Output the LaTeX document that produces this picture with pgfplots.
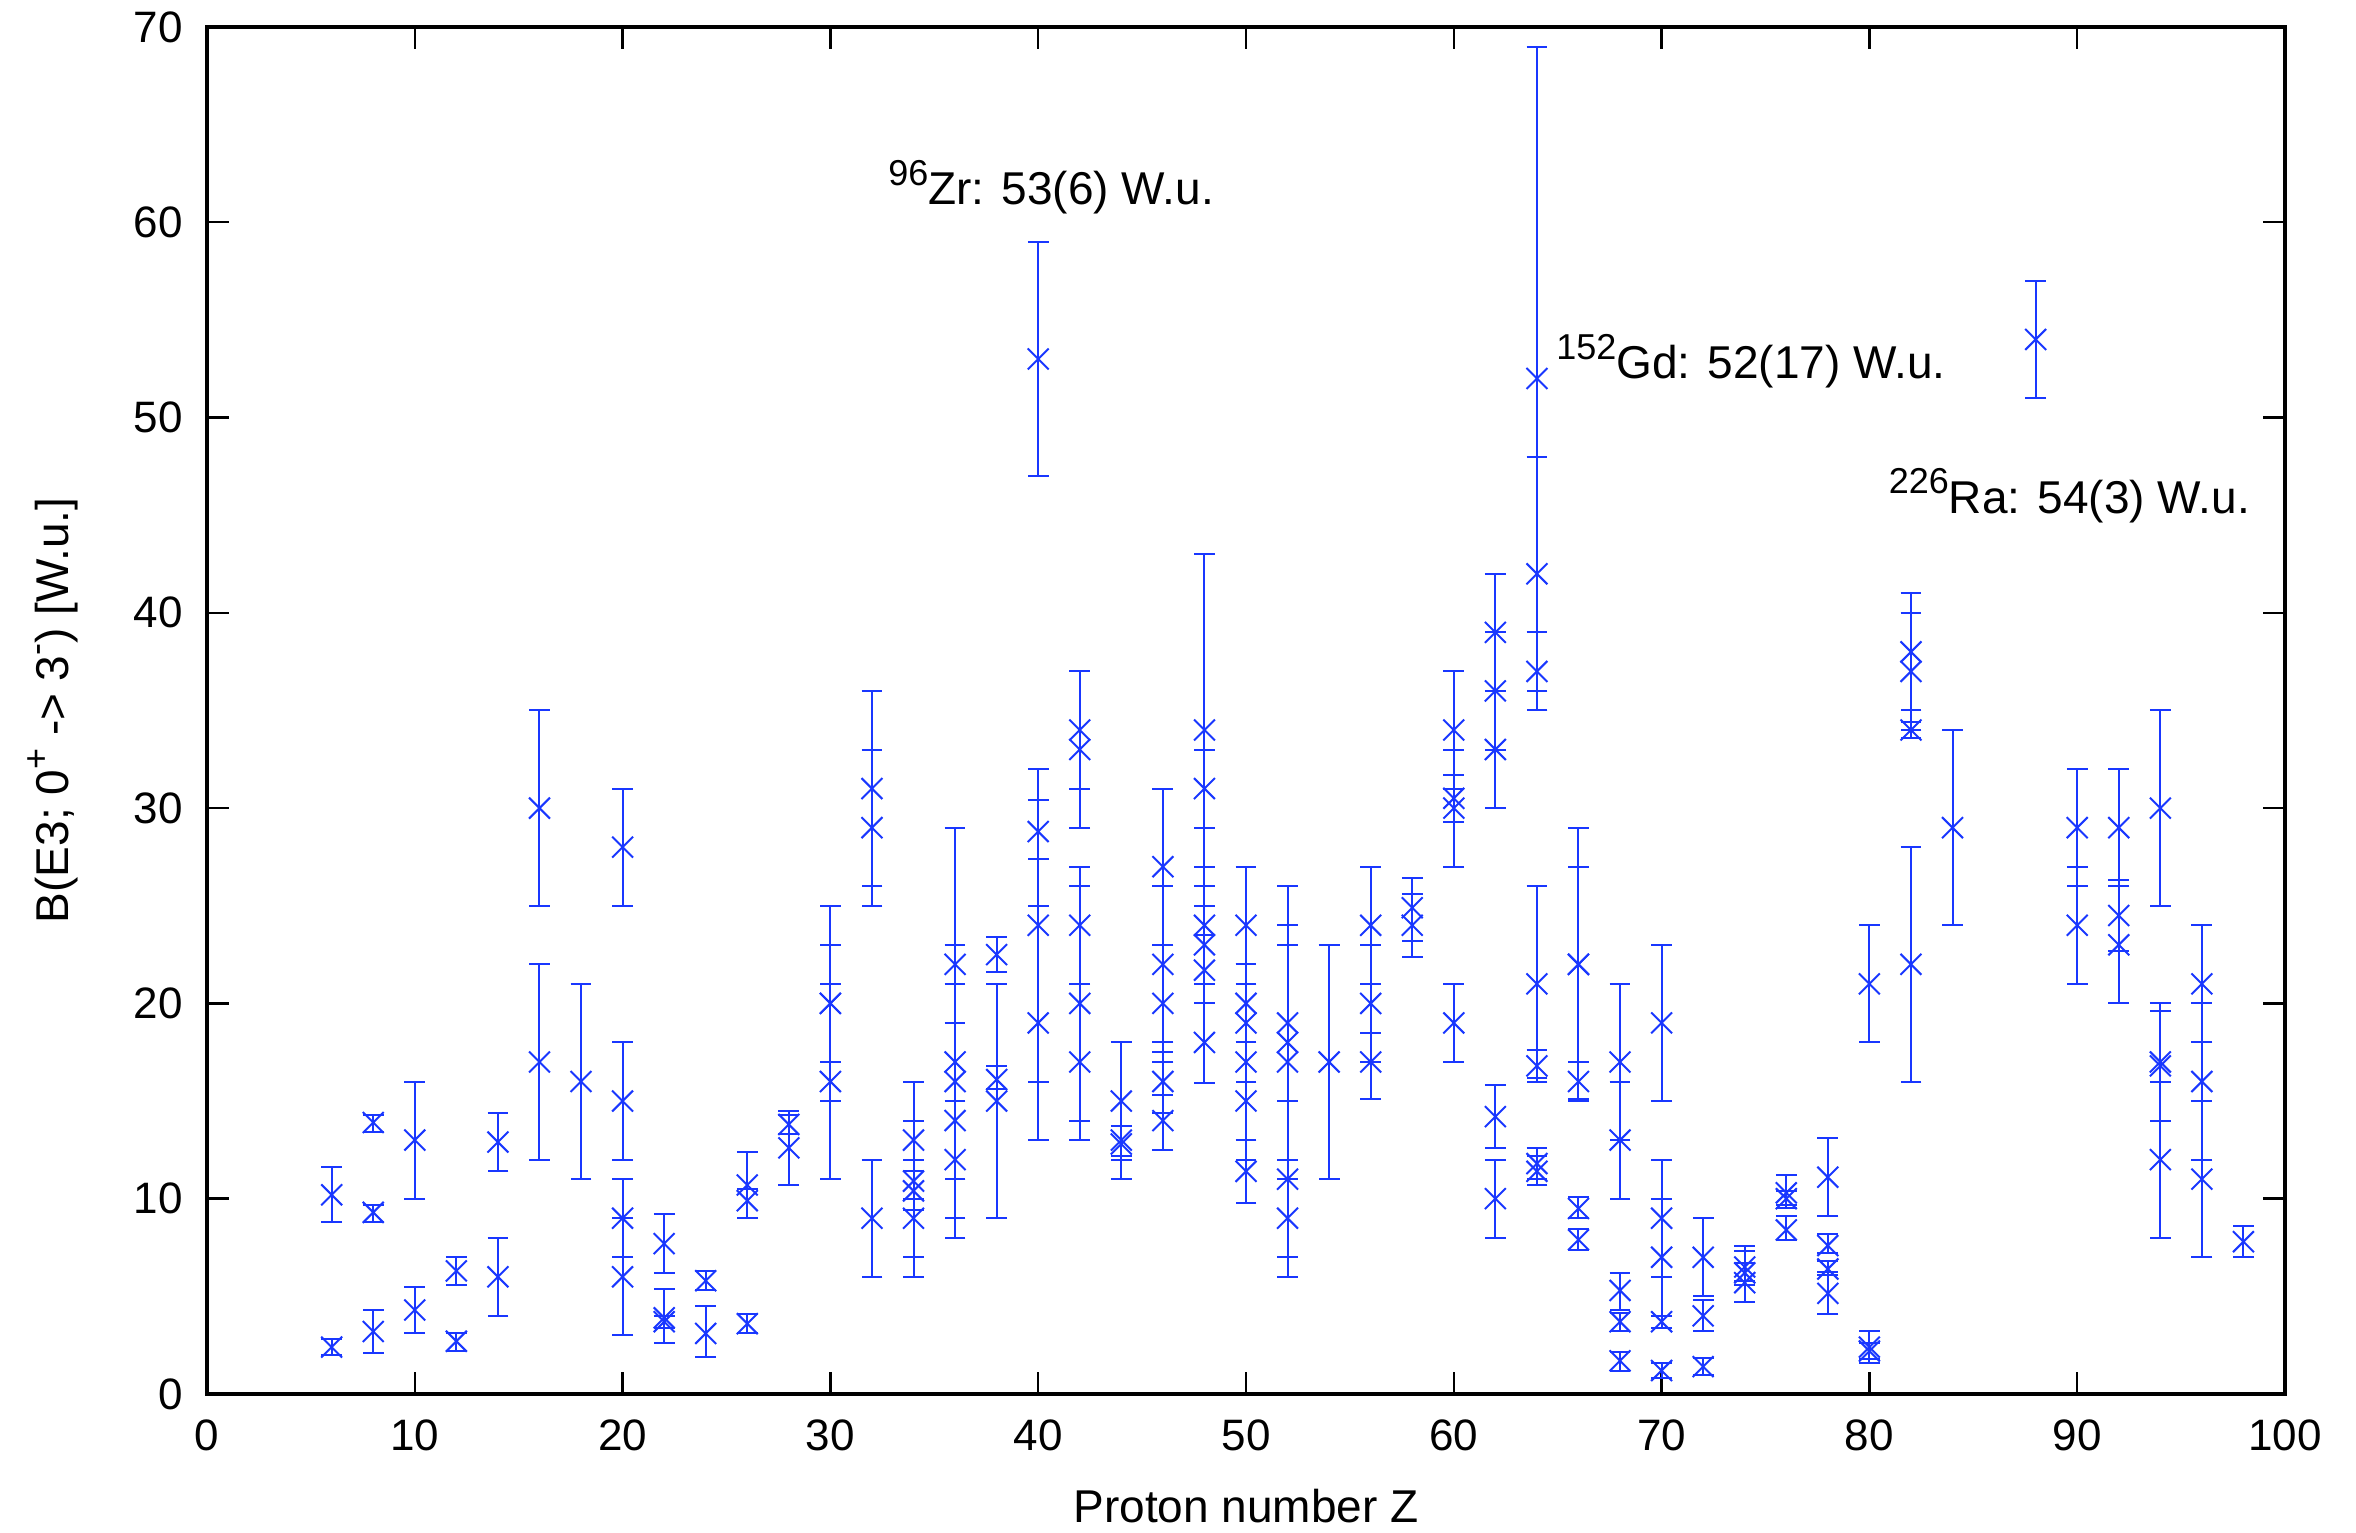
\documentclass[border=0pt]{standalone}
\usepackage{fontspec}
\setmainfont{Liberation Sans}
\usepackage{pgfplots}
\usepackage{pgfplotstable}
\pgfplotsset{compat=1.18}
\definecolor{gpblue}{RGB}{25,55,255}
\newcommand{\gpsup}[1]{\raisebox{0.42em}{\fontsize{9}{10}\selectfont #1}}
\pgfplotstableread{
Z y ep em
6 10.2 1.4 1.4
6 2.4 0.4 0.4
8 13.9 0.4 0.5
8 9.3 0.4 0.5
8 3.2 1.1 1.1
10 13.0 3 3
10 4.3 1.2 1.2
12 6.3 0.7 0.7
12 2.7 0.4 0.5
14 12.9 1.5 1.5
14 6.0 2 2
16 30 5 5
16 17 5 5
18 16 5 5
20 28 3 3
20 15 3 3
20 9 2 2
20 6 3 3
22 7.7 1.5 1.5
22 3.9 1.5 1.3
22 3.7 0.3 0.3
24 5.8 0.5 0.5
24 3.1 1.4 1.2
26 10.7 1.7 1.7
26 9.9 0.6 0.9
26 3.6 0.5 0.5
28 13.8 0.7 0.5
28 12.6 1.7 1.9
30 20 5 5
30 20 3 3
30 16 5 5
32 31 5 5
32 29 4 4
32 9 3 3
34 13 3 3
34 10.9 3.1 3.9
34 10.4 1.0 1.0
34 9 3 3
36 22 7 7
36 17 6 6
36 16 5 5
36 14 5 6
36 12 3 3
38 22.5 0.9 0.9
38 16.1 0.7 0.5
38 15 6 6
40 53 6 6
40 28.8 1.6 1.4
40 24 8 8
40 19 6 6
42 34 3 3
42 33 4 4
42 24 3 3
42 20 6 6
42 17 4 4
44 15 3 3
44 13 0.7 0.8
44 12.8 0.9 1.8
46 27 4 4
46 22 4 4
46 20 3 3
46 16 1.5 1.6
46 14 1.3 1.5
48 34 9 9
48 31 2 2
48 24 3 3
48 23 3 3
48 21.7 1.8 1.7
48 18 2 2.1
50 24 3 3
50 20 2 2
50 19 3 3
50 17 4 4
50 15 3 3
50 11.4 1.6 1.6
52 19 7 7
52 18 6 6
52 17 6 6
52 11 4 4
52 9 3 3
54 17 6 6
56 24 3 3
56 20 3 3
56 17 1.5 1.9
58 24.9 1.5 1.7
58 24.0 1.6 1.6
60 34 3 3
60 30.5 1.2 1.2
60 30 3 3
60 19 2 2
62 39 3 3
62 36 3 3
62 33 3 3
62 14.2 1.6 1.6
62 10 2 2
64 52 17 17
64 42 6 6
64 37 2 2
64 21 5 5
64 16.8 0.8 0.6
64 11.8 0.8 0.8
64 11.4 0.8 0.7
66 22 7 7
66 22 5 5
66 16 1 0.9
66 9.5 0.6 0.5
66 7.9 0.55 0.55
68 17 4 4
68 13 3 3
68 5.3 0.9 1.0
68 3.7 0.45 0.5
68 1.7 0.45 0.5
70 19 4 4
70 9 3 3
70 7 3 3
70 3.7 0.3 0.3
70 1.2 0.4 0.4
72 7 2 2
72 4 0.8 0.8
72 1.4 0.45 0.45
74 6.5 1.1 0.7
74 6.2 1.1 0.6
74 5.7 1.0 1.0
76 10.3 0.9 0.8
76 10 0.4 0.3
76 8.4 0.7 0.5
78 11.1 2 2
78 7.6 0.6 0.4
78 6.4 0.4 0.3
78 5.15 1.1 1.05
80 21 3 3
80 2.4 0.8 0.8
80 2.2 0.4 0.4
82 38 3 3
82 37 3 3
82 34 0.4 0.4
82 22 6 6
84 29 5 5
88 54 3 3
90 29 3 3
90 24 3 3
92 29 3 3
92 24.5 1.8 1.8
92 23 3 3
94 30 5 5
94 17 3 3
94 16.8 2.8 2.8
94 12 4 4
96 21 3 3
96 16 4 4
96 11 4 4
98 7.8 0.8 0.8
}\data
\begin{document}
\begin{tikzpicture}
\begin{axis}[name=ax, scale only axis, width=519.5pt, height=341.75pt,
  xmin=0, xmax=100, ymin=0, ymax=70,
  xtick={0,10,...,100}, ytick={0,10,...,70},
  tick align=inside, major tick length=5.5pt,
  axis line style={line width=1pt},
  every tick/.style={black, line width=0.6pt},
  /pgf/number format/assume math mode=true,
  tick label style={font=\fontsize{11}{13}\selectfont},
  yticklabel shift=2.5pt, xticklabel shift=3pt,
  xlabel={Proton number Z},
  ylabel={B(E3; 0\gpsup{+} -> 3\gpsup{-}) [W.u.]},
  label style={font=\fontsize{11.5}{13}\selectfont},
  xlabel style={at={(axis description cs:0.5,-0.082)}, anchor=center},
  ylabel style={at={(axis description cs:-0.0741,0.5)}, anchor=center},
  clip=false]
\addplot[only marks, mark=x, mark size=3.7pt, color=gpblue, line width=0.5pt,
  mark options={line width=0.5pt},
  error bars/.cd, y dir=both, y explicit,
  error bar style={line width=0.5pt, gpblue},
  error mark options={rotate=90, mark size=2.6pt, line width=0.5pt, gpblue}]
  table[x=Z, y=y, y error plus=ep, y error minus=em]{\data};
\node[anchor=base west, inner sep=0pt, font=\fontsize{11.5}{13}\selectfont] at (axis cs:32.75,60.9) {\gpsup{96}Zr: 53(6) W.u.};
\node[anchor=base west, inner sep=0pt, font=\fontsize{11.5}{13}\selectfont] at (axis cs:64.9,52.0) {\gpsup{152}Gd: 52(17) W.u.};
\node[anchor=base west, inner sep=0pt, font=\fontsize{11.5}{13}\selectfont] at (axis cs:80.9,45.1) {\gpsup{226}Ra: 54(3) W.u.};
\end{axis}
\pgfresetboundingbox
\path[use as bounding box] ([xshift=-51.75pt,yshift=-34.75pt]ax.south west) rectangle ([xshift=17.75pt,yshift=6.75pt]ax.north east);
\end{tikzpicture}
\end{document}
